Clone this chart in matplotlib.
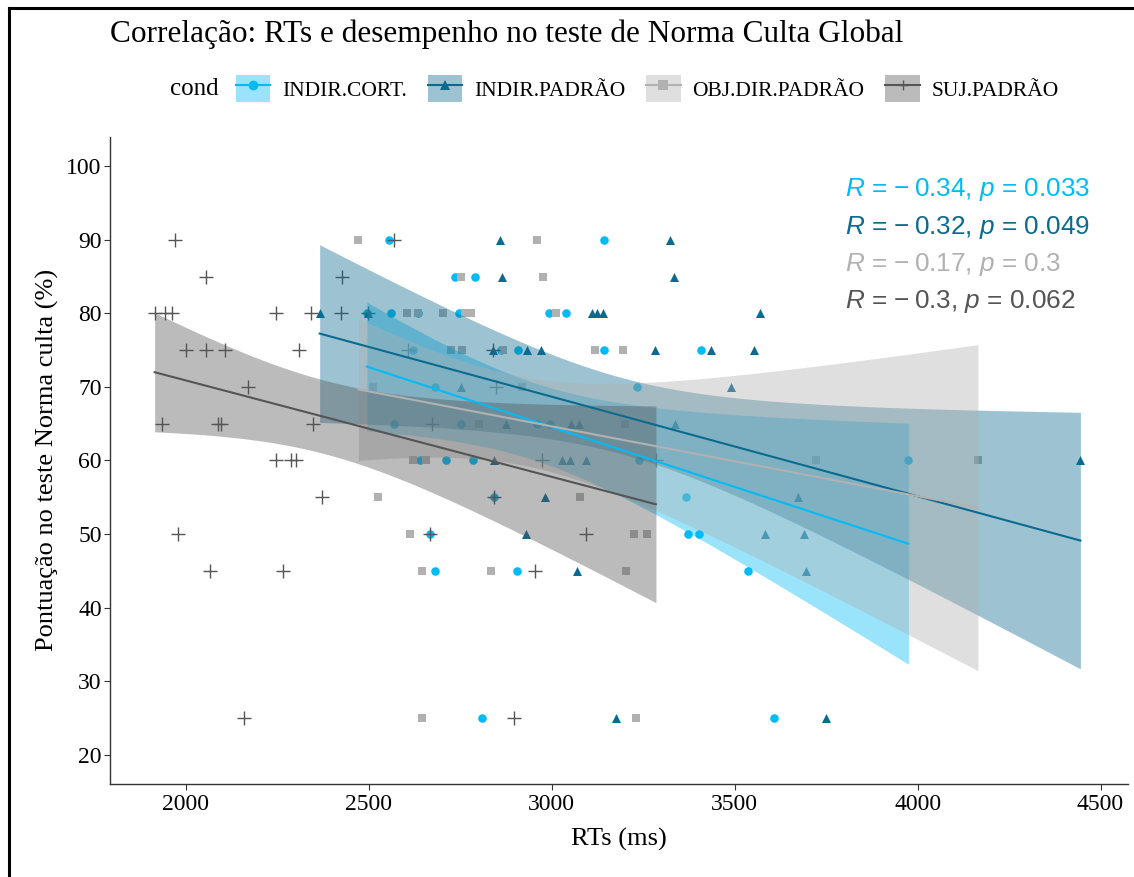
import numpy as np
import matplotlib
matplotlib.use("Agg")
import matplotlib.pyplot as plt
from matplotlib.patches import Patch
from matplotlib.lines import Line2D
from matplotlib.legend_handler import HandlerTuple

plt.rcParams['font.family'] = ['Liberation Serif', 'DejaVu Serif']
plt.rcParams['mathtext.fontset'] = 'custom'
plt.rcParams['mathtext.rm'] = 'Liberation Sans'
plt.rcParams['mathtext.it'] = 'Liberation Sans:italic'

# ---- data (RT in ms, score in %) ----
cort_rt = [2556, 3143, 2736, 2790, 2495, 2561, 2636, 2747, 2993, 3038,
           2620, 2861, 2909, 3143, 3409, 2682, 3233, 2570, 2752, 2961, 2995,
           2640, 2711, 2786, 3238, 3975, 2843, 3368, 2667, 3372, 3402,
           2682, 2904, 3536, 2809, 3608]
cort_sc = [90, 90, 85, 85, 80, 80, 80, 80, 80, 80,
           75, 75, 75, 75, 75, 70, 70, 65, 65, 65, 65,
           60, 60, 60, 60, 60, 55, 55, 50, 50, 50,
           45, 45, 45, 25, 25]

indir_rt = [2858, 3323, 2863, 3335, 2366, 2498, 3111, 3125, 3140, 3570,
            2841, 2933, 2972, 3282, 3436, 3552, 2752, 3491,
            2874, 3054, 3076, 3336, 2843, 3027, 3049, 3093, 4445,
            2982, 3673, 2931, 3583, 3691, 3070, 3695, 3177, 3749]
indir_sc = [90, 90, 85, 85, 80, 80, 80, 80, 80, 80,
            75, 75, 75, 75, 75, 75, 70, 70,
            65, 65, 65, 65, 60, 60, 60, 60, 60,
            55, 55, 50, 50, 50, 45, 45, 25, 25]

obj_rt = [2472, 2960, 2752, 2977, 2604, 2636, 2702, 2764, 2779, 3011,
          2725, 2756, 2866, 3118, 3195, 2511, 2918, 2802, 3200,
          2620, 2656, 3722, 4165, 2526, 3077, 2614, 3224, 3261,
          2647, 2834, 3202, 2645, 3231]
obj_sc = [90, 90, 85, 85, 80, 80, 80, 80, 80, 80,
          75, 75, 75, 75, 75, 70, 70, 65, 65,
          60, 60, 60, 60, 55, 55, 50, 50, 50,
          45, 45, 45, 25, 25]

suj_rt = [1970, 2570, 2054, 2427, 1915, 1943, 1962, 2247, 2343, 2423, 2497,
          2002, 2054, 2106, 2309, 2608, 2841, 2171, 2849,
          1934, 2088, 2095, 2347, 2672, 2247, 2288, 2302, 2973, 3285,
          2373, 2843, 1980, 2667, 3094, 2067, 2265, 2955, 2160, 2897]
suj_sc = [90, 90, 85, 85, 80, 80, 80, 80, 80, 80, 80,
          75, 75, 75, 75, 75, 75, 70, 70,
          65, 65, 65, 65, 65, 60, 60, 60, 60, 60,
          55, 55, 50, 50, 50, 45, 45, 45, 25, 25]

conds = ['INDIR.CORT.', 'INDIR.PADRÃO', 'OBJ.DIR.PADRÃO', 'SUJ.PADRÃO']
stats = ['$R$ = \u2212\u20090.34, $p$ = 0.033', '$R$ = \u2212\u20090.32, $p$ = 0.049',
         '$R$ = \u2212\u20090.17, $p$ = 0.3', '$R$ = \u2212\u20090.3, $p$ = 0.062']

groups = [(cort_rt, cort_sc), (indir_rt, indir_sc), (obj_rt, obj_sc), (suj_rt, suj_sc)]
colors = ['#00BBF5', '#0B6A8F', '#B1B1B1', '#555555']
markers = ['o', '^', 's', '+']
msize = [38, 42, 36, 110]


def t975(df):
    z = 1.959964
    return z + (z**3 + z) / (4 * df) + (5 * z**5 + 16 * z**3 + 3 * z) / (96 * df**2)


fig = plt.figure(figsize=(11.34, 8.77), dpi=100)
ax = fig.add_axes([0.097, 0.106, 0.898, 0.738])

for (x, y), c, m, s in zip(groups, colors, markers, msize):
    x = np.array(x, float)
    y = np.array(y, float)
    if m == '+':
        ax.scatter(x, y, marker=m, s=s, color=c, linewidths=1.0, zorder=2)
    else:
        ax.scatter(x, y, marker=m, s=s, color=c, linewidths=0, zorder=2)
    b, a = np.polyfit(x, y, 1)
    xs = np.linspace(x.min(), x.max(), 80)
    ys = a + b * xs
    n = len(x)
    res = y - (a + b * x)
    se = np.sqrt(np.sum(res**2) / (n - 2))
    sxx = np.sum((x - x.mean())**2)
    ci = t975(n - 2) * se * np.sqrt(1.0 / n + (xs - x.mean())**2 / sxx)
    ax.fill_between(xs, ys - ci, ys + ci, color=c, alpha=0.4, linewidth=0, zorder=3)
    ax.plot(xs, ys, color=c, lw=1.5, zorder=4)

ax.set_xlim(1793, 4576)
ax.set_ylim(16, 104)
ax.set_yticks(np.arange(20, 101, 10))
ax.set_xticks([2000, 2500, 3000, 3500, 4000, 4500])
for sp in ['top', 'right']:
    ax.spines[sp].set_visible(False)
for sp in ['left', 'bottom']:
    ax.spines[sp].set_color('#333333')
    ax.spines[sp].set_linewidth(1.0)
ax.tick_params(length=4, color='#333333', labelsize=17, labelcolor='black')
ax.tick_params(axis='y', pad=2)
ax.set_xlabel('RTs (ms)', fontsize=19, labelpad=9)
ax.set_ylabel('Pontuação no teste Norma culta (%)', fontsize=19, labelpad=5)

for i, (txt, c) in enumerate(zip(stats, colors)):
    ax.text(0.722, 0.918 - i * 0.0575, txt, transform=ax.transAxes, color=c,
            fontsize=18.8, family='Liberation Sans', va='center', ha='left')

fig.text(0.097, 0.961, 'Correlação: RTs e desempenho no teste de Norma Culta Global',
         fontsize=22.5, va='center', ha='left')

handles = [(Patch(facecolor=c, alpha=0.4, edgecolor='none'),
            Line2D([], [], color=c, lw=1.5, marker=m, markersize=7,
                   markeredgewidth=1 if m == '+' else 0))
           for c, m in zip(colors, markers)]
fig.text(0.15, 0.899, 'cond', fontsize=18, va='center', ha='left')
fig.legend(handles, conds, handler_map={tuple: HandlerTuple(ndivide=1)},
           loc='center left', bbox_to_anchor=(0.208, 0.899), ncol=4, frameon=False,
           fontsize=15.5, handlelength=1.6, handleheight=1.6, columnspacing=0.97,
           handletextpad=0.55, borderpad=0.0, borderaxespad=0.0)

# outer frame of the screenshot
fig.add_artist(Line2D([0.0075, 0.0075], [0.0, 0.991], color='black', lw=2.2,
                      transform=fig.transFigure))
fig.add_artist(Line2D([0.0075, 1.0], [0.991, 0.991], color='black', lw=2.2,
                      transform=fig.transFigure))

fig.savefig('out.png', dpi=100)
